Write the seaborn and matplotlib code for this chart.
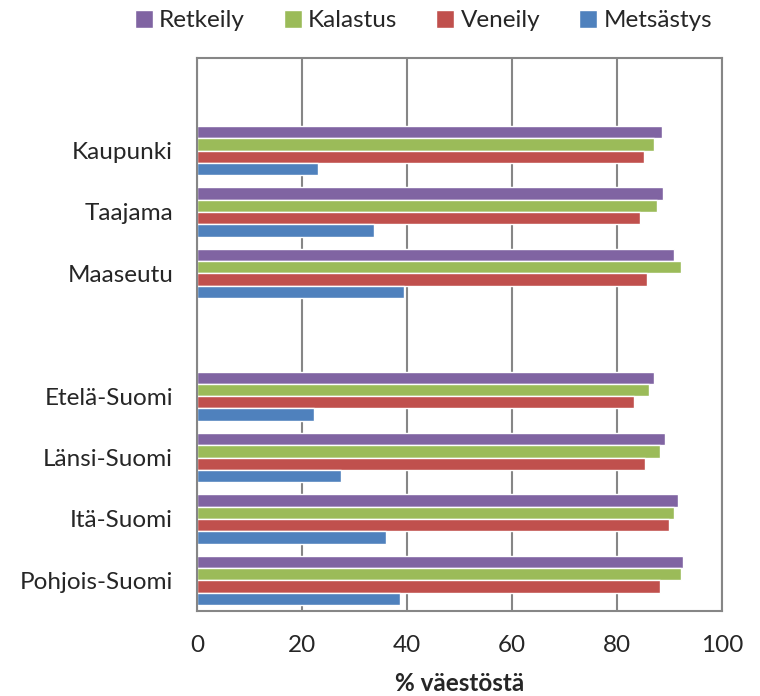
import numpy as np
import pandas as pd
import seaborn as sns
from matplotlib import pyplot as plt
from matplotlib.patches import Patch

# categories (blank slots keep the gaps of the original chart)
order = ['', 'Kaupunki', 'Taajama', 'Maaseutu', ' ',
         'Etelä-Suomi', 'Länsi-Suomi', 'Itä-Suomi', 'Pohjois-Suomi']
areas = ['Kaupunki', 'Taajama', 'Maaseutu',
         'Etelä-Suomi', 'Länsi-Suomi', 'Itä-Suomi', 'Pohjois-Suomi']
series = ['Retkeily', 'Kalastus', 'Veneily', 'Metsästys']

retkeily = [88.5, 88.7, 90.8, 87.1, 89.2, 91.7, 92.6]
kalastus = [87.0, 87.7, 92.1, 86.1, 88.1, 90.9, 92.1]
veneily = [85.2, 84.4, 85.8, 83.3, 85.4, 90.0, 88.1]
metsastys = [23.0, 33.8, 39.5, 22.3, 27.4, 36.1, 38.6]

colors = ['#8064A2', '#9BBB59', '#C0504D', '#4F81BD']

rows = []
for name, vals in zip(series, [retkeily, kalastus, veneily, metsastys]):
    for a, v in zip(areas, vals):
        rows.append({'alue': a, 'laji': name, 'pct': v})
df = pd.DataFrame(rows)

sns.set_style('white')
plt.rcParams['font.family'] = ['Lato', 'DejaVu Sans']

fig = plt.figure(figsize=(7.6, 6.96), dpi=100)
ax = fig.add_axes([0.259, 0.122, 0.691, 0.794])

sns.barplot(data=df, y='alue', x='pct', hue='laji', order=order,
            hue_order=series, palette=colors, orient='h', width=0.8,
            saturation=1, errorbar=None, ax=ax, legend=False)

ax.set_xlim(0, 100)
ax.set_xticks([0, 20, 40, 60, 80, 100])
ax.grid(axis='x', color='#868686', linewidth=1.5)
ax.set_axisbelow(True)
for s in ax.spines.values():
    s.set_color('#868686')
    s.set_linewidth(1.5)
ax.tick_params(axis='x', length=0, pad=17, labelsize=17.5)
ax.tick_params(axis='y', length=0, pad=17, labelsize=17.5)
ax.set_ylabel('')
ax.set_xlabel('% väestöstä', fontsize=17.5, fontweight='bold', labelpad=12)

handles = [Patch(facecolor=c, label=n) for c, n in zip(colors, series)]
fig.legend(handles=handles, loc='upper center', bbox_to_anchor=(0.557, 1.017),
           ncol=4, frameon=False, fontsize=17.5, handlelength=0.75,
           handleheight=0.75, handletextpad=0.25, columnspacing=1.6)

plt.savefig('out.png')
plt.close()
